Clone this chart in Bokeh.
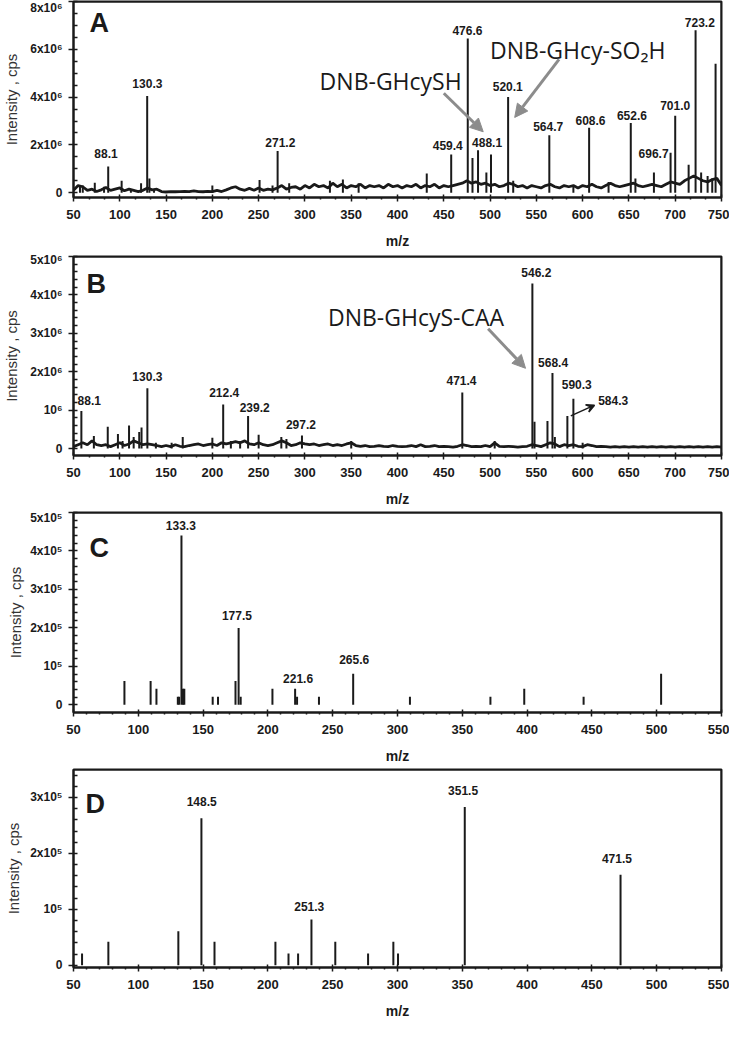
from bokeh.plotting import figure
from bokeh.layouts import column
from bokeh.models import Range1d, FixedTicker, Arrow, NormalHead, VeeHead, ColumnDataSource, Span
from bokeh.core.properties import value
from bokeh.embed import file_html
from bokeh.resources import INLINE

# ---------------- data ----------------
# Panel A (intensity in units of 1e6 cps)
A_peak_mz = [57, 60, 73, 83, 87.5, 102, 112, 123, 129.6, 132, 137, 200, 251, 265, 270.5, 283,
             327, 341, 358, 431.6, 458, 475.9, 481, 487, 496, 501, 519.5, 525, 564, 590, 607,
             628, 652, 657, 677, 695, 700, 714.5, 722, 728, 735, 740, 743.6]
A_peak_int = [0.3, 0.3, 0.42, 0.25, 1.1, 0.5, 0.15, 0.4, 4.05, 0.6, 0.15, 0.3, 0.53, 0.3, 1.75, 0.4,
              0.5, 0.55, 0.4, 0.8, 1.6, 6.45, 1.45, 1.78, 0.85, 1.6, 4.0, 0.5, 2.4, 0.3, 2.72,
              0.45, 2.92, 0.6, 0.85, 1.67, 3.22, 1.17, 6.8, 0.85, 0.7, 0.6, 5.4]
A_noise_int = [0.10, 0.30, 0.25, 0.10, 0.15, 0.05, 0.12, 0.22, 0.10, 0.15, 0.20, 0.08, 0.15, 0.10,
               0.05, 0.10, 0.20, 0.12, 0.15, 0.05, 0.03, 0.05, 0.04, 0.05, 0.06, 0.05, 0.08, 0.05,
               0.04, 0.06, 0.05, 0.10, 0.05, 0.12, 0.20, 0.25, 0.15, 0.10, 0.18, 0.10, 0.20, 0.10,
               0.15, 0.12, 0.20, 0.30, 0.15, 0.22, 0.25, 0.15, 0.30, 0.20, 0.35, 0.25, 0.30, 0.20,
               0.40, 0.25, 0.35, 0.20, 0.30, 0.25, 0.35, 0.20, 0.30, 0.25, 0.30, 0.20, 0.35, 0.25,
               0.30, 0.20, 0.30, 0.25, 0.35, 0.20, 0.30, 0.25, 0.35, 0.20, 0.30, 0.25, 0.30, 0.35,
               0.40, 0.50, 0.40, 0.45, 0.35, 0.40, 0.30, 0.35, 0.25, 0.30, 0.40, 0.35, 0.25, 0.30,
               0.20, 0.30, 0.25, 0.20, 0.30, 0.35, 0.25, 0.20, 0.30, 0.25, 0.30, 0.20, 0.30, 0.25,
               0.35, 0.25, 0.20, 0.30, 0.40, 0.30, 0.25, 0.30, 0.35, 0.40, 0.30, 0.25, 0.30, 0.35,
               0.30, 0.25, 0.35, 0.45, 0.40, 0.35, 0.50, 0.60, 0.70, 0.60, 0.50, 0.45, 0.55, 0.60,
               0.30]
A_lab_text = ["88.1", "130.3", "271.2", "459.4", "476.6", "488.1", "520.1", "564.7", "608.6",
              "652.6", "696.7", "701.0", "723.2"]
A_lab_x = [85.1, 129.8, 273.4, 454.3, 475.5, 496.8, 519.1, 562.8, 608.5, 653.2, 676.6, 700.0, 726.6]
A_lab_y = [1.62, 4.57, 2.10, 1.98, 6.79, 2.10, 4.44, 2.79, 3.03, 3.23, 1.66, 3.64, 7.11]

# Panel B (units of 1e6 cps)
B_peak_mz = [58.5, 72, 87, 98, 103, 110, 115, 121, 123.5, 129.8, 139, 156, 168, 200, 211.7, 220,
             230, 238.6, 250, 274.5, 280, 296.8, 350, 470, 505, 545.7, 548, 562, 567.4, 570,
             583.5, 590, 600]
B_peak_int = [0.98, 0.33, 0.57, 0.38, 0.2, 0.6, 0.3, 0.43, 0.55, 1.57, 0.15, 0.15, 0.3, 0.28, 1.15,
              0.2, 0.2, 0.85, 0.36, 0.3, 0.25, 0.34, 0.2, 1.46, 0.2, 4.3, 0.7, 0.72, 1.97, 0.3,
              0.85, 1.3, 0.15]
B_noise_int = [0.05, 0.10, 0.15, 0.10, 0.20, 0.10, 0.08, 0.10, 0.05, 0.10, 0.15, 0.08, 0.12, 0.20,
               0.15, 0.10, 0.12, 0.10, 0.08, 0.05, 0.08, 0.05, 0.10, 0.06, 0.05, 0.08, 0.10, 0.12,
               0.08, 0.10, 0.12, 0.08, 0.15, 0.12, 0.15, 0.18, 0.15, 0.20, 0.12, 0.10, 0.15, 0.10,
               0.08, 0.10, 0.15, 0.20, 0.15, 0.08, 0.10, 0.15, 0.12, 0.10, 0.12, 0.08, 0.10, 0.12,
               0.08, 0.10, 0.08, 0.12, 0.15, 0.08, 0.06, 0.08, 0.05, 0.06, 0.08, 0.06, 0.05, 0.08,
               0.06, 0.05, 0.06, 0.08, 0.05, 0.10, 0.05, 0.06, 0.08, 0.05, 0.06, 0.05, 0.04, 0.06,
               0.10, 0.08, 0.05, 0.06, 0.05, 0.08, 0.05, 0.15, 0.06, 0.05, 0.06, 0.05, 0.04, 0.05,
               0.06, 0.10, 0.08, 0.05, 0.10, 0.15, 0.12, 0.05, 0.10, 0.08, 0.10, 0.06, 0.05, 0.10,
               0.08, 0.05, 0.06, 0.05, 0.04, 0.05, 0.04, 0.05, 0.04, 0.05, 0.04, 0.05, 0.04, 0.05,
               0.04, 0.05, 0.04, 0.05, 0.04, 0.05, 0.04, 0.05, 0.04, 0.05, 0.04, 0.05, 0.04, 0.05,
               0.04]
B_lab_text = ["88.1", "130.3", "212.4", "239.2", "297.2", "471.4", "546.2", "568.4", "590.3", "584.3"]
B_lab_x = [67.0, 129.8, 212.8, 245.7, 295.7, 469.1, 550.0, 568.1, 593.6, 633.0]
B_lab_y = [1.24, 1.88, 1.47, 1.08, 0.62, 1.78, 4.59, 2.24, 1.68, 1.24]

# Panel C (units of 1e5 cps)
C_mz = [89.3, 109.5, 114, 130.5, 131.5, 133.3, 134.5, 135.5, 157.4, 161.5, 175, 177.4, 179,
        203.5, 221, 222.5, 239.4, 265.8, 309.6, 371.7, 397.8, 443.6, 503.4]
C_int = [0.62, 0.62, 0.42, 0.21, 0.21, 4.4, 0.42, 0.42, 0.21, 0.21, 0.62, 2.0, 0.21,
         0.42, 0.42, 0.21, 0.21, 0.81, 0.21, 0.21, 0.42, 0.21, 0.81]
C_lab_text = ["133.3", "177.5", "221.6", "265.6"]
C_lab_x = [132.8, 176.1, 223.3, 266.6]
C_lab_y = [4.67, 2.31, 0.69, 1.18]

# Panel D (units of 1e5 cps)
D_mz = [56.6, 76.9, 130.9, 148.7, 158.8, 205.8, 215.9, 223.3, 233.6, 252, 277.3, 296.8, 300.4,
        351.9, 472.1]
D_int = [0.21, 0.42, 0.61, 2.63, 0.42, 0.42, 0.21, 0.21, 0.82, 0.42, 0.21, 0.42, 0.21, 2.83, 1.62]
D_lab_text = ["148.5", "251.3", "351.5", "471.5"]
D_lab_x = [148.9, 231.9, 350.6, 469.3]
D_lab_y = [2.93, 1.05, 3.12, 1.91]

NOISE_MZ = list(range(50, 755, 5))

AB_xticks = [50, 100, 150, 200, 250, 300, 350, 400, 450, 500, 550, 600, 650, 700, 750]
CD_xticks = [50, 100, 150, 200, 250, 300, 350, 400, 450, 500, 550]

FONT = "Liberation Sans"
GRAY = "#8c8c8c"
INK = "#1a1a1a"


def make_fig(xr, yr, w, h, bl, bt, bb, br, xticks, xminor, yticks, yminor, ylabels, ystand):
    p = figure(x_range=Range1d(*xr), y_range=Range1d(*yr), width=w, height=h,
               output_backend="svg", toolbar_location=None, min_border=0)
    p.min_border_left = bl
    p.min_border_top = bt
    p.min_border_bottom = bb
    p.min_border_right = br
    p.grid.visible = False
    p.outline_line_color = INK
    p.outline_line_width = 2
    p.background_fill_color = "white"
    p.border_fill_color = "white"
    # frame box (top and right edges)
    p.add_layout(Span(location=yr[1], dimension="width", line_color=INK, line_width=2))
    p.add_layout(Span(location=xr[1], dimension="height", line_color=INK, line_width=2))

    xa = p.xaxis[0]
    xa.ticker = FixedTicker(ticks=xticks, minor_ticks=xminor)
    xa.axis_label = "m/z"
    xa.axis_label_text_font = FONT
    xa.axis_label_text_font_style = "bold"
    xa.axis_label_text_font_size = "14px"
    xa.axis_label_text_color = INK
    xa.axis_label_standoff = 11
    xa.major_label_text_font = FONT
    xa.major_label_text_font_style = "bold"
    xa.major_label_text_font_size = "13px"
    xa.major_label_text_color = INK
    xa.major_label_standoff = 8
    xa.axis_line_width = 2
    xa.axis_line_color = INK
    xa.major_tick_out = 4
    xa.major_tick_in = 3
    xa.minor_tick_out = 2
    xa.minor_tick_in = 0
    xa.major_tick_line_width = 1.5
    xa.minor_tick_line_width = 1.5
    xa.major_tick_line_color = INK
    xa.minor_tick_line_color = INK

    ya = p.yaxis[0]
    ya.ticker = FixedTicker(ticks=yticks, minor_ticks=yminor)
    ya.major_label_overrides = ylabels
    ya.axis_label = "Intensity , cps"
    ya.axis_label_text_font = FONT
    ya.axis_label_text_font_style = "normal"
    ya.axis_label_text_font_size = "15px"
    ya.axis_label_text_color = "#333333"
    ya.axis_label_standoff = ystand
    ya.major_label_text_font = FONT
    ya.major_label_text_font_style = "bold"
    ya.major_label_text_font_size = "12px"
    ya.major_label_text_color = INK
    ya.major_label_standoff = 6
    ya.axis_line_width = 2
    ya.axis_line_color = INK
    ya.major_tick_out = 5
    ya.major_tick_in = 4
    ya.minor_tick_out = 0
    ya.minor_tick_in = 4
    ya.major_tick_line_width = 1.5
    ya.minor_tick_line_width = 1.5
    ya.major_tick_line_color = INK
    ya.minor_tick_line_color = INK
    return p


def add_labels(p, texts, xs, ys, size="12px"):
    src = ColumnDataSource(dict(x=xs, y=ys, t=texts))
    p.text(x="x", y="y", text="t", source=src, text_font=value(FONT), text_font_style="bold",
           text_font_size=size, text_align="center", text_baseline="middle", text_color=INK)


def add_big(p, txt, x, y, size="23px", bold=False, font="Open Sans"):
    p.text(x=[x], y=[y], text=[txt], text_font=value(font),
           text_font_style="bold" if bold else "normal",
           text_font_size=size, text_align="center", text_baseline="middle", text_color=INK)


def grey_arrow(p, x0, y0, x1, y1):
    p.add_layout(Arrow(end=NormalHead(size=13, fill_color=GRAY, line_color=GRAY),
                       x_start=x0, y_start=y0, x_end=x1, y_end=y1,
                       line_color=GRAY, line_width=3))


AB_xminor = [v for v in range(50, 751) if ((v - 50) % 50) in (17, 33)]
CD_xminor = [v for v in range(50, 551, 10) if v % 50]
MINOR_02 = [0.2, 0.4, 0.6, 0.8, 1.2, 1.4, 1.6, 1.8, 2.2, 2.4, 2.6, 2.8, 3.2, 3.4, 3.6, 3.8,
            4.2, 4.4, 4.6, 4.8]

# ---------------- Panel A ----------------
pA = make_fig((50, 750), (-0.2, 8.0), 729, 252, 68, 1, 55, 4,
              AB_xticks, AB_xminor,
              [0, 2, 4, 6, 8], [0.5, 1, 1.5, 2.5, 3, 3.5, 4.5, 5, 5.5, 6.5, 7, 7.5],
              {0: "0", 2: "2x10⁶", 4: "4x10⁶", 6: "6x10⁶", 8: "8x10⁶"}, 7)
pA.line(NOISE_MZ, A_noise_int, line_color=INK, line_width=2.8)
pA.segment(x0=A_peak_mz, y0=[0] * len(A_peak_mz), x1=A_peak_mz, y1=A_peak_int,
           line_color=INK, line_width=2)
add_labels(pA, A_lab_text, A_lab_x, A_lab_y)
add_big(pA, "A", 77.7, 7.11, size="27px", bold=True, font=FONT)
add_big(pA, "DNB-GHcySH", 392.6, 4.69)
add_big(pA, "DNB-GHcy-SO₂H", 594.7, 5.98)
grey_arrow(pA, 450, 4.16, 492.6, 2.55)
grey_arrow(pA, 574.5, 5.58, 526.6, 3.15)

# ---------------- Panel B ----------------
pB = make_fig((50, 750), (-0.18, 5.0), 729, 258, 68, 4, 55, 4,
              AB_xticks, AB_xminor,
              [0, 1, 2, 3, 4, 5], MINOR_02,
              {0: "0", 1: "10⁶", 2: "2x10⁶", 3: "3x10⁶", 4: "4x10⁶", 5: "5x10⁶"}, 7)
pB.line(NOISE_MZ, B_noise_int, line_color=INK, line_width=2.8)
pB.segment(x0=B_peak_mz, y0=[0] * len(B_peak_mz), x1=B_peak_mz, y1=B_peak_int,
           line_color=INK, line_width=2)
add_labels(pB, B_lab_text, B_lab_x, B_lab_y)
add_big(pB, "B", 74.5, 4.28, size="27px", bold=True, font=FONT)
add_big(pB, "DNB-GHcyS-CAA", 420, 3.43)
grey_arrow(pB, 497.9, 3.12, 538.3, 2.09)
pB.add_layout(Arrow(end=VeeHead(size=8, line_color=INK, line_width=1.5, fill_color=INK),
                    x_start=587.2, y_start=0.85, x_end=612.8, y_end=1.13,
                    line_color=INK, line_width=1.5))

# ---------------- Panel C ----------------
pC = make_fig((50, 550), (-0.2, 5.0), 729, 257, 63, 2, 55, 8,
              CD_xticks, CD_xminor,
              [0, 1, 2, 3, 4, 5], MINOR_02,
              {0: "0", 1: "10⁵", 2: "2x10⁵", 3: "3x10⁵", 4: "4x10⁵", 5: "5x10⁵"}, 3)
pC.segment(x0=C_mz, y0=[0] * len(C_mz), x1=C_mz, y1=C_int, line_color=INK, line_width=2)
add_labels(pC, C_lab_text, C_lab_x, C_lab_y)
add_big(pC, "C", 69.8, 4.08, size="27px", bold=True, font=FONT)

# ---------------- Panel D ----------------
pD = make_fig((50, 550), (-0.04, 3.5), 729, 255, 65, 2, 55, 7,
              CD_xticks, CD_xminor,
              [0, 1, 2, 3], MINOR_02[:14],
              {0: "0", 1: "10⁵", 2: "2x10⁵", 3: "3x10⁵"}, 5)
pD.segment(x0=D_mz, y0=[0] * len(D_mz), x1=D_mz, y1=D_int, line_color=INK, line_width=2)
add_labels(pD, D_lab_text, D_lab_x, D_lab_y)
add_big(pD, "D", 66.7, 2.89, size="27px", bold=True, font=FONT)

layout = column(pA, pB, pC, pD, spacing=0)
open("out.html", "w").write(file_html(layout, INLINE))
